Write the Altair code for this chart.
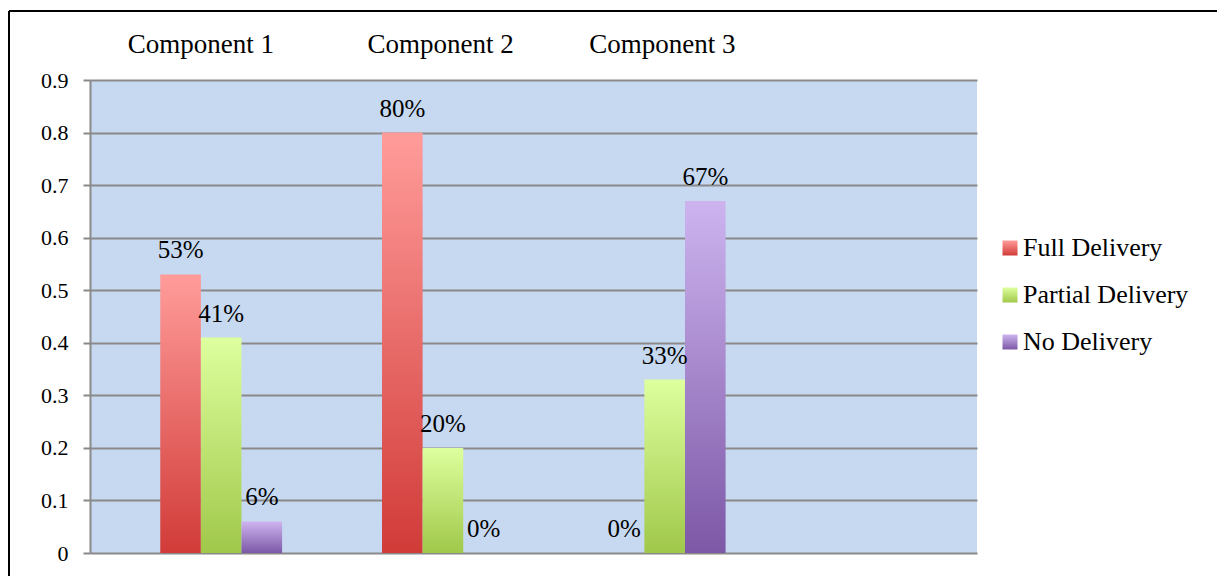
import altair as alt
import pandas as pd

categories = ["Component 1", "Component 2", "Component 3"]
series = ["Full Delivery", "Partial Delivery", "No Delivery"]
full_delivery = [0.53, 0.80, 0.00]
partial_delivery = [0.41, 0.20, 0.33]
no_delivery = [0.06, 0.00, 0.67]
y_ticks = [0, 0.1, 0.2, 0.3, 0.4, 0.5, 0.6, 0.7, 0.8, 0.9]

rows = []
for i, c in enumerate(categories):
    for s, vals in zip(series, [full_delivery, partial_delivery, no_delivery]):
        rows.append({"component": c, "series": s, "value": vals[i]})
df = pd.DataFrame(rows)

FONT = "Liberation Serif"
GRID = "#898989"


def grad(top, bottom):
    return {"expr": "{gradient:'linear',x1:0,y1:0,x2:0,y2:1,stops:[{offset:0,color:'%s'},{offset:1,color:'%s'}]}" % (top, bottom)}


x_enc = alt.X(
    "component:N",
    scale=alt.Scale(domain=categories + [" "], paddingInner=0, paddingOuter=0),
    axis=alt.Axis(
        orient="top", title=None, domain=False, ticks=False, tickSize=0, grid=False,
        labelAngle=0, labelFont=FONT, labelFontSize=27, labelColor="black",
        labelPadding=22,
        labelOffset={"condition": {"test": "datum.value == 'Component 1'", "value": 0}, "value": 18},
    ),
)
xoff_enc = alt.XOffset(
    "series:N",
    scale=alt.Scale(domain=["_gap"] + series, paddingInner=0, paddingOuter=0.73),
)
y_enc = alt.Y(
    "value:Q",
    scale=alt.Scale(domain=[0, 0.9], nice=False),
    axis=alt.Axis(
        values=y_ticks, format="~g", title=None,
        domainColor=GRID, domainWidth=2, tickColor=GRID, tickWidth=2, tickSize=7,
        gridColor=GRID, gridWidth=2, labelFont=FONT, labelFontSize=22,
        labelColor="black", labelPadding=15,
    ),
)

bars = alt.Chart(df).mark_bar().encode(
    x=x_enc,
    xOffset=xoff_enc,
    y=y_enc,
    color=alt.Color(
        "series:N",
        scale=alt.Scale(
            domain=series,
            range=[
                grad("#FF9C9A", "#D13B38"),
                grad("#DEFF9E", "#A0C84A"),
                grad("#CDB4EF", "#7D58A6"),
            ],
        ),
        legend=alt.Legend(
            title=None, orient="none", legendX=907, legendY=155,
            symbolType="square", symbolSize=225, symbolStrokeWidth=0,
            labelFont=FONT, labelFontSize=26, labelColor="black", labelLimit=400,
            rowPadding=21, labelOffset=0, padding=0,
        ),
    ),
)

labels = alt.Chart(df).mark_text(
    baseline="alphabetic", dy=-16, font=FONT, fontSize=25, color="black"
).encode(
    x=x_enc,
    xOffset=xoff_enc,
    y=y_enc,
    text=alt.Text("value:Q", format=".0%"),
)

one = pd.DataFrame({"k": [0]})
frame_left = alt.Chart(one).mark_rule(color="black", strokeWidth=2).encode(
    x=alt.value(-81), y=alt.value(-69), y2=alt.value(700)
)
frame_top = alt.Chart(one).mark_rule(color="black", strokeWidth=2).encode(
    x=alt.value(-81), x2=alt.value(1400), y=alt.value(-69)
)

chart = alt.layer(bars, labels, frame_left, frame_top).properties(
    width=887,
    height=473,
    autosize=alt.AutoSizeParams(type="none"),
    padding={"left": 90, "top": 80, "right": 240, "bottom": 23},
    background="white",
).configure_view(fill="#C6D9F1", strokeWidth=0)

chart.save("out.html", embed_options={"renderer": "svg", "actions": False})
